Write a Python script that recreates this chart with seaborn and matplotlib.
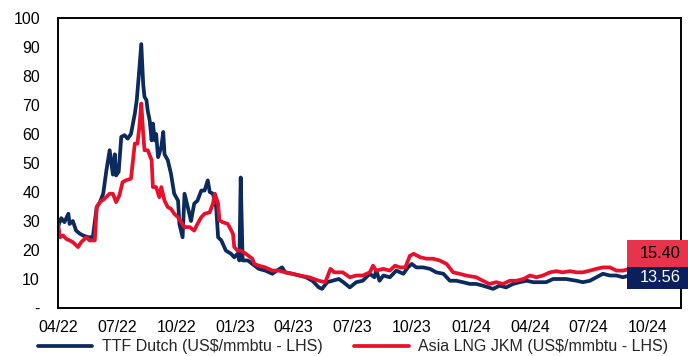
import matplotlib
matplotlib.use("Agg")
import matplotlib.pyplot as plt
import matplotlib.dates as mdates
import matplotlib.transforms as mtransforms
from matplotlib.patches import Rectangle
import pandas as pd
import seaborn as sns

# ---------------- data ----------------
ttf_dates = [
    "2022-04-01", "2022-04-06", "2022-04-11", "2022-04-17", "2022-04-19", "2022-04-24", "2022-04-29",
    "2022-05-05", "2022-05-10", "2022-05-18", "2022-05-25", "2022-05-31", "2022-06-05", "2022-06-10",
    "2022-06-15", "2022-06-20", "2022-06-25", "2022-06-28", "2022-06-30", "2022-07-04", "2022-07-08",
    "2022-07-13", "2022-07-18", "2022-07-23", "2022-07-29", "2022-08-01", "2022-08-04", "2022-08-08",
    "2022-08-11", "2022-08-13", "2022-08-16", "2022-08-18", "2022-08-21", "2022-08-24", "2022-08-26",
    "2022-08-29", "2022-08-31", "2022-09-03", "2022-09-08", "2022-09-11", "2022-09-13", "2022-09-18",
    "2022-09-23", "2022-09-28", "2022-10-04", "2022-10-06", "2022-10-11", "2022-10-14", "2022-10-19",
    "2022-10-24", "2022-10-29", "2022-11-03", "2022-11-09", "2022-11-14", "2022-11-19", "2022-11-22",
    "2022-11-27", "2022-12-02", "2022-12-05", "2022-12-10", "2022-12-17", "2022-12-25", "2022-12-30",
    "2023-01-04", "2023-01-07", "2023-01-09", "2023-01-12", "2023-01-20", "2023-01-27", "2023-02-06",
    "2023-02-16", "2023-02-27", "2023-03-06", "2023-03-14", "2023-03-19", "2023-03-30", "2023-04-10",
    "2023-04-20", "2023-04-30", "2023-05-10", "2023-05-15", "2023-05-23", "2023-05-31", "2023-06-10",
    "2023-06-17", "2023-06-27", "2023-07-07", "2023-07-17", "2023-07-28", "2023-08-04", "2023-08-07",
    "2023-08-12", "2023-08-18", "2023-08-28", "2023-09-07", "2023-09-18", "2023-09-25", "2023-10-01",
    "2023-10-08", "2023-10-19", "2023-10-29", "2023-11-08", "2023-11-19", "2023-11-29", "2023-12-09",
    "2023-12-19", "2023-12-30", "2024-01-09", "2024-01-19", "2024-02-04", "2024-02-14", "2024-02-24",
    "2024-03-06", "2024-03-16", "2024-03-27", "2024-04-06", "2024-04-16", "2024-04-26", "2024-05-07",
    "2024-05-17", "2024-05-27", "2024-06-12", "2024-06-22", "2024-07-03", "2024-07-13", "2024-07-23",
    "2024-08-03", "2024-08-13", "2024-08-23", "2024-10-10",
]
ttf_values = [
    28, 31, 29.6, 32.5, 29, 30, 26.7,
    25.6, 25, 24.4, 24.4, 34.8, 36.5, 39.4,
    47.5, 54.4, 46, 53, 45.7, 47, 59,
    59.6, 58.4, 60, 67, 71.7, 79.7, 91,
    77, 72.8, 71.7, 68, 64.7, 57.8, 63.6,
    57.8, 60, 52, 55.5, 60.7, 53, 51,
    46.3, 39.4, 37, 29, 24.4, 39.4, 34.8,
    30, 36, 37, 40.5, 40.5, 44, 40,
    39.4, 34.8, 24.4, 23.3, 19.8, 18.7, 17.5,
    18.7, 16.4, 45, 16.4, 16.4, 15.2, 13.5,
    12.9, 11.8, 12.9, 14, 12.3, 11.8, 11.2,
    10.6, 9.4, 7.1, 6.6, 8.9, 9.4, 10,
    8.9, 7.1, 8.9, 9.4, 11.8, 10.6, 12.9,
    9.4, 11.2, 10.6, 12.9, 11.8, 14, 15.2,
    14, 14, 13.5, 12.3, 11.8, 9.4, 9.4,
    8.9, 8.3, 8.3, 7.7, 6.6, 7.7, 7.1,
    8.3, 8.9, 9.4, 8.9, 8.9, 8.9, 10,
    10, 10, 9.4, 8.9, 9.4, 10.6, 11.8,
    11.2, 11.2, 10.6, 13.56,
]

jkm_dates = [
    "2022-04-01", "2022-04-04", "2022-04-09", "2022-04-14", "2022-04-19", "2022-04-24", "2022-05-02",
    "2022-05-07", "2022-05-15", "2022-05-20", "2022-05-28", "2022-05-31", "2022-06-05", "2022-06-12",
    "2022-06-20", "2022-06-25", "2022-06-30", "2022-07-05", "2022-07-10", "2022-07-15", "2022-07-23",
    "2022-07-29", "2022-08-02", "2022-08-05", "2022-08-08", "2022-08-11", "2022-08-13", "2022-08-18",
    "2022-08-24", "2022-08-26", "2022-08-31", "2022-09-05", "2022-09-08", "2022-09-13", "2022-09-18",
    "2022-09-23", "2022-09-28", "2022-10-04", "2022-10-09", "2022-10-14", "2022-10-22", "2022-10-29",
    "2022-11-03", "2022-11-09", "2022-11-14", "2022-11-22", "2022-11-27", "2022-11-30", "2022-12-05",
    "2022-12-07", "2022-12-12", "2022-12-20", "2022-12-28", "2022-12-30", "2023-01-04", "2023-01-09",
    "2023-01-17", "2023-01-27", "2023-01-30", "2023-02-06", "2023-02-16", "2023-02-27", "2023-03-09",
    "2023-03-19", "2023-03-30", "2023-04-10", "2023-04-25", "2023-05-10", "2023-05-20", "2023-05-28",
    "2023-06-03", "2023-06-16", "2023-06-27", "2023-07-07", "2023-07-17", "2023-07-28", "2023-08-02",
    "2023-08-07", "2023-08-18", "2023-08-28", "2023-09-05", "2023-09-13", "2023-09-21", "2023-09-28",
    "2023-10-04", "2023-10-14", "2023-10-24", "2023-11-03", "2023-11-13", "2023-11-24", "2023-12-04",
    "2023-12-14", "2023-12-24", "2024-01-09", "2024-01-19", "2024-01-29", "2024-02-09", "2024-02-19",
    "2024-03-01", "2024-03-11", "2024-03-22", "2024-04-01", "2024-04-11", "2024-04-21", "2024-05-02",
    "2024-05-12", "2024-05-22", "2024-06-02", "2024-06-12", "2024-06-22", "2024-07-03", "2024-07-13",
    "2024-07-23", "2024-08-03", "2024-08-13", "2024-08-23", "2024-10-10",
]
jkm_values = [
    29, 24.4, 25, 23.8, 23.3, 22.7, 21,
    22.7, 24.4, 23.3, 23.3, 34.8, 36.5, 37.7,
    39.4, 39.4, 36.5, 38.8, 43.4, 44, 44.6,
    56.7, 56.7, 62.4, 70.5, 60, 54.4, 54.4,
    51, 41.7, 41.7, 38.2, 41.7, 37, 34.8,
    34.2, 32.5, 31.3, 29.6, 27.9, 27.9, 26.7,
    29, 31.3, 32.5, 33, 36, 39.4, 36,
    30.2, 29.6, 29, 25.6, 21, 19.8, 19.8,
    18.7, 17, 15.2, 14.6, 14, 12.9, 12.9,
    12.3, 11.8, 11.2, 10.6, 9.4, 8.9, 13.5,
    12.3, 12.3, 10.6, 11.2, 11.2, 12.3, 14.6,
    12.9, 13.5, 12.9, 14.6, 14, 14, 18,
    18.7, 17.5, 17, 17, 16.4, 15.2, 12.3,
    11.8, 11.2, 10.6, 9.4, 8.3, 8.9, 8.3,
    9.4, 9.4, 10, 11.2, 10.6, 11.2, 12.3,
    12.7, 12.3, 12.7, 12.3, 12.3, 12.9, 13.5,
    14, 14, 12.9, 12.9, 15.4,
]

series_names = ["TTF Dutch (US$/mmbtu - LHS)", "Asia LNG JKM (US$/mmbtu - LHS)"]
line_colors = ["#0B2A5E", "#E8102B"]
box_colors = ["#0B1F5C", "#E8334C"]
y_ticks = [0, 10, 20, 30, 40, 50, 60, 70, 80, 90, 100]
y_tick_labels = ["-", "10", "20", "30", "40", "50", "60", "70", "80", "90", "100"]
x_tick_dates = ["2022-04-01", "2022-07-01", "2022-10-01", "2023-01-01", "2023-04-01", "2023-07-01",
                "2023-10-01", "2024-01-01", "2024-04-01", "2024-07-01", "2024-10-01"]
x_limits = ["2022-04-01", "2024-11-21"]

# ---------------- build table ----------------
df = pd.concat([
    pd.DataFrame({"date": pd.to_datetime(ttf_dates), "value": ttf_values, "series": series_names[0]}),
    pd.DataFrame({"date": pd.to_datetime(jkm_dates), "value": jkm_values, "series": series_names[1]}),
], ignore_index=True)

sns.set_style("white")
plt.rcParams["font.family"] = ["Liberation Sans", "DejaVu Sans"]

fig = plt.figure(figsize=(6.88, 3.56), dpi=100)
ax = fig.add_axes([58 / 688, 48 / 356, 623 / 688, 290 / 356])

sns.lineplot(data=df, x="date", y="value", hue="series", hue_order=series_names,
             palette=dict(zip(series_names, line_colors)), estimator=None, sort=True,
             linewidth=2.7, ax=ax, legend=True)

ax.set_xlim(pd.to_datetime(x_limits[0]), pd.to_datetime(x_limits[1]))
ax.set_ylim(y_ticks[0], y_ticks[-1])
ax.set_xlabel("")
ax.set_ylabel("")
ax.set_yticks(y_ticks)
ax.set_yticklabels(y_tick_labels)
ax.set_xticks(pd.to_datetime(x_tick_dates))
ax.xaxis.set_major_formatter(mdates.DateFormatter("%m/%y"))
ax.tick_params(axis="x", direction="out", length=4, width=1.3, pad=5, labelsize=11.4, colors="black")
ax.tick_params(axis="y", length=0, pad=13, labelsize=11.4, colors="black")
for s in ax.spines.values():
    s.set_visible(True)
    s.set_color("black")
    s.set_linewidth(1.4)

handles, labels = ax.get_legend_handles_labels()
ax.get_legend().remove()
fig.legend(handles, labels, loc="center", bbox_to_anchor=(0.513, 0.026), ncol=2, frameon=False,
           handlelength=3.4, handletextpad=0.6, columnspacing=2.0, fontsize=11.5)

# ---------------- last-value boxes ----------------
blend = mtransforms.blended_transform_factory(ax.transAxes, ax.transData)
last_vals = [ttf_values[-1], jkm_values[-1]]
box_bottoms = [6.6, 14.1]
box_heights = [7.5, 9.3]
text_colors = ["white", "black"]
for val, b, h, fc, tc in zip(last_vals, box_bottoms, box_heights, box_colors, text_colors):
    ax.add_patch(Rectangle((0.913, b), 0.098, h, transform=blend, facecolor=fc,
                           edgecolor="none", clip_on=False, zorder=5))
    ax.text(0.999, b + h / 2, f"{val:.2f}", transform=blend, ha="right", va="center",
            fontsize=11.8, color=tc, zorder=6, clip_on=False)

fig.savefig("out.png", dpi=100)
